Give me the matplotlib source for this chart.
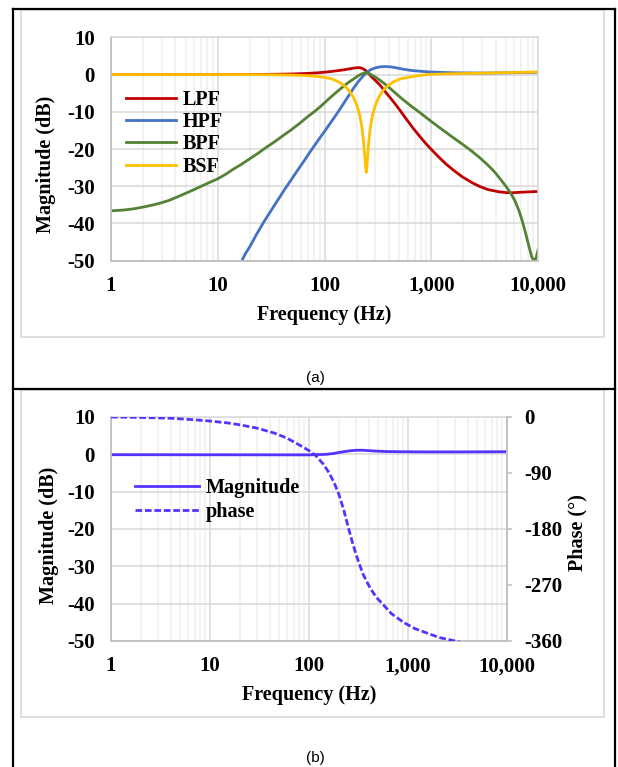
import numpy as np
import matplotlib
matplotlib.use('Agg')
import matplotlib.pyplot as plt
from matplotlib.ticker import LogLocator, NullFormatter
from matplotlib.patches import Rectangle
from matplotlib.lines import Line2D

plt.rcParams['font.family'] = 'Liberation Serif'
plt.rcParams['font.weight'] = 'bold'
plt.rcParams['axes.labelweight'] = 'bold'
plt.rcParams['axes.unicode_minus'] = False

# ---- data ----
xticks = [1, 10, 100, 1000, 10000]
xtick_labels = ['1', '10', '100', '1,000', '10,000']
mag_ticks = [-50, -40, -30, -20, -10, 0, 10]
phase_ticks = [0, -90, -180, -270, -360]

# (a) filter responses
lpf_f = [1, 10, 20, 30, 40, 50, 69, 90, 110, 130, 150, 170, 190, 205, 218, 230, 245,
         260, 280, 300, 328, 370, 437, 500, 582, 680, 775, 880, 1000, 1170, 1370, 1650,
         1960, 2400, 2810, 3400, 4310, 5000, 5740, 7000, 10000]
lpf_db = [0, 0, 0.02, 0.05, 0.1, 0.15, 0.3, 0.5, 0.75, 1.0, 1.25, 1.5, 1.75, 1.85, 1.8,
          1.55, 1.0, 0.2, -0.8, -1.6, -2.7, -4.6, -7.1, -9.3, -11.9, -14.5, -16.5, -18.4,
          -20.1, -22.1, -24.0, -25.9, -27.5, -29.0, -30.0, -30.9, -31.5, -31.7, -31.75,
          -31.6, -31.4]

hpf_f = [16.5, 18, 20, 23, 27, 31, 36, 42, 48.4, 56, 64, 72, 80, 90, 100, 115, 130, 150,
         170, 190, 210, 230, 250, 270, 300, 330, 370, 420, 480, 542, 650, 775, 960, 1300,
         1800, 3000, 5000, 10000]
hpf_db = [-50.5, -48.3, -46.2, -43.0, -39.6, -36.9, -34.0, -31.0, -28.4, -25.7, -23.3,
          -21.1, -19.2, -17.1, -15.3, -12.8, -10.6, -7.9, -5.5, -3.4, -1.7, -0.4, 0.6,
          1.3, 1.8, 2.05, 2.15, 2.05, 1.75, 1.45, 1.1, 0.9, 0.7, 0.55, 0.45, 0.4, 0.45,
          0.6]

bpf_f = [1, 1.3, 1.6, 2, 2.5, 3, 3.5, 4, 5, 6, 7, 8.5, 10, 12, 14, 16.5, 20, 23.7, 28,
         33.9, 40, 48.5, 58, 69, 80, 90, 100, 110, 130, 150, 170, 185, 205, 220, 235,
         247, 260, 280, 300, 330, 378, 430, 480, 542, 650, 780, 960, 1200, 1580, 2000,
         2400, 2810, 3300, 3700, 4010, 4500, 5000, 5540, 6100, 6620, 7100, 7640, 8200,
         8700, 9000, 9300, 9600, 10000]
bpf_db = [-36.6, -36.4, -36.1, -35.6, -35.0, -34.4, -33.8, -33.1, -31.9, -30.9, -30.0,
          -28.9, -28.0, -26.7, -25.4, -24.2, -22.6, -21.2, -19.7, -18.1, -16.6, -14.9,
          -13.2, -11.4, -10.0, -8.8, -7.6, -6.5, -4.7, -3.2, -2.0, -1.3, -0.4, 0.1, 0.4,
          0.5, 0.3, -0.2, -0.7, -1.5, -2.8, -4.2, -5.4, -6.7, -8.5, -10.2, -12.2, -14.3,
          -16.8, -18.9, -20.6, -22.2, -24.0, -25.4, -26.5, -28.3, -30.0, -31.8, -34.0,
          -36.5, -39.2, -42.5, -46.0, -48.8, -49.7, -49.9, -49.3, -47.1]

bsf_f = [1, 10, 20, 30, 40, 50, 69, 90, 111, 125, 138, 155, 172, 188, 202, 214, 224,
         231, 237, 242, 246, 250, 255, 261, 269, 281, 298, 320, 348, 390, 435, 480, 540,
         670, 800, 960, 1500, 2260, 5000, 10000]
bsf_db = [0, 0, -0.02, -0.05, -0.1, -0.15, -0.3, -0.56, -1.0, -1.5, -2.1, -3.1, -4.5,
          -6.3, -8.4, -11.0, -14.2, -17.5, -21.0, -24.5, -26.3, -24.5, -21.0, -17.5,
          -14.2, -11.0, -8.4, -6.3, -4.5, -3.1, -2.1, -1.5, -1.0, -0.56, -0.2, 0.05, 0.2,
          0.3, 0.5, 0.7]

# (b) magnitude and phase
mag_f = [1, 100, 150, 180, 200, 230, 260, 300, 350, 400, 450, 600, 830, 1500, 3000, 10000]
mag_db = [-0.1, -0.15, 0.0, 0.25, 0.5, 0.75, 0.95, 1.1, 1.1, 1.0, 0.9, 0.75, 0.7, 0.65,
          0.65, 0.7]

ph_f = [1, 2, 4, 7, 10, 15, 20, 30, 45, 60, 80, 100, 117, 140, 160, 180, 200, 225, 250,
        275, 300, 350, 390, 427, 480, 550, 680, 900, 1170, 1600, 2100, 3000, 3600]
ph_deg = [0, -0.7, -2, -4.5, -6.5, -9.5, -12.5, -18, -26, -34, -45, -54, -62, -76, -90,
          -106, -124, -150, -178, -202, -222, -252, -267, -278, -290, -300, -316, -330,
          -340, -348, -354.7, -360, -363]

W, H = 618, 767
fig = plt.figure(figsize=(W / 100, H / 100), dpi=100)
font = dict(family='Liberation Serif', weight='bold', size=14.5)


def box(x0, y0, x1, y1):
    return [x0 / W, 1 - y1 / H, (x1 - x0) / W, (y1 - y0) / H]


def style(ax):
    ax.set_xscale('log')
    ax.set_xlim(1, 10000)
    ax.set_ylim(-50, 10)
    ax.set_xticks(xticks)
    ax.set_xticklabels(xtick_labels)
    ax.xaxis.set_minor_locator(LogLocator(base=10, subs=np.arange(2, 10)))
    ax.xaxis.set_minor_formatter(NullFormatter())
    ax.set_yticks(mag_ticks)
    ax.set_yticklabels([str(v) for v in mag_ticks])
    ax.grid(True, which='major', color='#d9d9d9', lw=1.1)
    ax.grid(True, which='minor', axis='x', color='#efefef', lw=1.1)
    ax.set_axisbelow(True)
    for s in ['top', 'right']:
        ax.spines[s].set_color('#d9d9d9')
        ax.spines[s].set_linewidth(1.1)
    for s in ['left', 'bottom']:
        ax.spines[s].set_color('#bfbfbf')
        ax.spines[s].set_linewidth(1.3)
    ax.tick_params(which='both', length=0, labelsize=15)
    ax.tick_params(axis='y', pad=11.5)
    ax.tick_params(axis='x', pad=11.0)


# ---- panel (a) ----
axa = fig.add_axes(box(111, 37.3, 538, 260.7))
style(axa)
axa.plot(lpf_f, lpf_db, color='#c00000', lw=2, label='LPF')
axa.plot(hpf_f, hpf_db, color='#4472c4', lw=2, label='HPF')
axa.plot(bpf_f, bpf_db, color='#548235', lw=2, label='BPF')
axa.plot(bsf_f, bsf_db, color='#ffc000', lw=2, label='BSF')
axa.set_xlabel('Frequency (Hz)', fontsize=14.5, va='center')
axa.xaxis.set_label_coords(0.5, -0.243)
axa.set_ylabel('Magnitude (dB)', fontsize=14.5, va='center', ha='center')
axa.yaxis.set_label_coords(-0.1522, 0.432)
axa.legend(loc='upper left', bbox_to_anchor=(0.0351, 0.766), frameon=False,
           borderpad=0, borderaxespad=0, handlelength=2.5, handletextpad=0.3,
           labelspacing=0.12, prop=font)

# ---- panel (b) ----
axb = fig.add_axes(box(111, 417, 507, 641))
style(axb)
mline, = axb.plot(mag_f, mag_db, color='#5533ff', lw=2, label='Magnitude')
axp = axb.twinx()
axp.set_ylim(-360, 0)
axp.set_yticks(phase_ticks)
axp.set_yticklabels([str(v) for v in phase_ticks])
pline, = axp.plot(ph_f, ph_deg, color='#5533ff', lw=2, ls=(0, (2.4, 1.0)), label='phase')
axp.tick_params(axis='y', direction='out', length=3.6, width=1.1, color='#bfbfbf',
                labelsize=15, pad=8.5)
for s in ['top', 'left', 'bottom']:
    axp.spines[s].set_visible(False)
axp.spines['right'].set_color('#bfbfbf')
axp.spines['right'].set_linewidth(1.3)
axb.set_xlabel('Frequency (Hz)', fontsize=14.5, va='center')
axb.xaxis.set_label_coords(0.5, -0.241)
axb.set_ylabel('Magnitude (dB)', fontsize=14.5, va='center', ha='center')
axb.yaxis.set_label_coords(-0.1556, 0.471)
axp.set_ylabel('Phase (°)', fontsize=14.5, va='center', ha='center', rotation=90)
axp.yaxis.set_label_coords(1.179, 0.484)
axb.legend(handles=[mline, pline], loc='upper left', bbox_to_anchor=(0.0606, 0.729),
           frameon=False, borderpad=0, borderaxespad=0, handlelength=3.2,
           handletextpad=0.33, labelspacing=0.22, prop=font)

# ---- frames and captions ----
for y0, y1 in [(10, 337), (390, 717)]:
    fig.add_artist(Rectangle((20.5 / W, 1 - y1 / H), (604 - 20.5) / W, (y1 - y0) / H,
                             transform=fig.transFigure, fill=False,
                             edgecolor='#d9d9d9', lw=1.2))
bk = dict(transform=fig.transFigure, color='black', lw=1.6)
fig.add_artist(Line2D([13 / W, 13 / W], [1 - 8.5 / H, 0], **bk))
fig.add_artist(Line2D([615 / W, 615 / W], [1 - 8.5 / H, 0], **bk))
fig.add_artist(Line2D([13 / W, 615 / W], [1 - 8.5 / H, 1 - 8.5 / H], **bk))
fig.add_artist(Line2D([13 / W, 615 / W], [1 - 388.5 / H, 1 - 388.5 / H], **bk))
fig.text(315 / W, 1 - 378 / H, '(a)', ha='center', va='center', fontsize=11,
         family='Liberation Sans', weight='normal')
fig.text(315 / W, 1 - 758 / H, '(b)', ha='center', va='center', fontsize=11,
         family='Liberation Sans', weight='normal')

fig.savefig('out.png', dpi=100)
